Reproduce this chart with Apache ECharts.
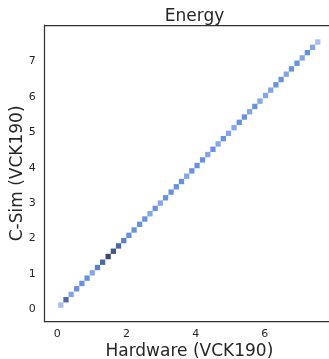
<!DOCTYPE html>
<html>
<head>
<meta charset="utf-8">
<script src="https://cdn.jsdelivr.net/npm/echarts@6/dist/echarts.min.js"></script>
<style>
html,body{margin:0;padding:0;background:#fff;}
#chart{width:329px;height:359px;}
</style>
</head>
<body>
<div id="chart"></div>
<script>
// Bin centres (2D histogram along the diagonal)
const hardware = [0.10,0.25,0.40,0.56,0.71,0.86,1.01,1.16,1.31,1.47,1.62,1.77,1.92,2.07,2.22,2.38,2.53,2.68,2.83,2.98,3.13,3.29,3.44,3.59,3.74,3.89,4.04,4.20,4.35,4.50,4.65,4.80,4.95,5.11,5.26,5.41,5.56,5.71,5.86,6.02,6.17,6.32,6.47,6.62,6.77,6.93,7.08,7.23,7.38,7.53];
const csim     = [0.12,0.27,0.42,0.58,0.73,0.88,1.03,1.18,1.33,1.49,1.64,1.79,1.94,2.09,2.24,2.40,2.55,2.70,2.85,3.00,3.15,3.31,3.46,3.61,3.76,3.91,4.06,4.22,4.37,4.52,4.67,4.82,4.97,5.13,5.28,5.43,5.58,5.73,5.88,6.04,6.19,6.34,6.49,6.64,6.79,6.95,7.10,7.25,7.40,7.55];
const counts   = [1,5,2,3,3,3,2,4,5,7,6,5,4,3,3,3,3,2,3,2,3,3,3,3,2,3,3,3,2,3,2,3,2,2,3,3,2,3,2,2,2,3,3,2,3,3,2,3,2,1];
const binWidth = 0.152;
const xTicks = [0,2,4,6];
const yTicks = [0,1,2,3,4,5,6,7];

const data = hardware.map((x,i)=>[x, csim[i], counts[i]]);
const txt = '#262626';
const font = 'DejaVu Sans';

const chart = echarts.init(document.getElementById('chart'), null, {renderer:'canvas'});
chart.setOption({
  animation:false,
  backgroundColor:'#fff',
  title:{text:'Energy', left:189.5, top:3, textAlign:'center',
    textStyle:{fontFamily:font, fontSize:17, fontWeight:'normal', color:txt}},
  grid:{left:44.7, top:25, right:-5, bottom:37.3, containLabel:false, outerBoundsMode:'none'},
  xAxis:[{
    type:'value', min:-0.365, max:8.0,
    name:'Hardware (VCK190)', nameLocation:'middle', nameGap:21, nameMoveOverlap:false,
    nameTextStyle:{fontFamily:font, fontSize:17, color:txt},
    axisLine:{show:true, onZero:false, lineStyle:{color:'#333', width:1.25}},
    axisTick:{show:false},
    splitLine:{show:false},
    axisLabel:{customValues:xTicks, fontFamily:font, fontSize:11, color:txt, margin:7}
  },{
    type:'value', position:'top', min:-0.365, max:8.0,
    axisLine:{show:true, onZero:false, lineStyle:{color:'#333', width:1.25}},
    axisTick:{show:false}, axisLabel:{show:false}, splitLine:{show:false}
  }],
  yAxis:{
    type:'value', min:-0.35, max:8.03,
    name:'C-Sim (VCK190)', nameLocation:'middle', nameGap:19, nameMoveOverlap:false,
    nameTextStyle:{fontFamily:font, fontSize:17, color:txt},
    axisLine:{show:true, onZero:false, lineStyle:{color:'#333', width:1.25}},
    axisTick:{show:false},
    splitLine:{show:false},
    axisLabel:{customValues:yTicks, fontFamily:font, fontSize:11, color:txt, margin:9}
  },
  visualMap:{
    show:false, type:'continuous', min:1, max:7, dimension:2, seriesIndex:0,
    inRange:{color:['#a9bfee','#84a5e7','#6692df','#5a80cc','#4b67a8','#44568a','#3b4a6c']}
  },
  series:[{
    type:'custom',
    xAxisIndex:0, yAxisIndex:0,
    data:data,
    encode:{x:0, y:1},
    renderItem:function(params, api){
      const c = api.coord([api.value(0), api.value(1)]);
      const s = api.size([binWidth, binWidth]);
      return {
        type:'rect',
        shape:{x:c[0]-s[0]/2, y:c[1]-s[1]/2, width:s[0], height:s[1]},
        style:{fill:api.visual('color')}
      };
    }
  }]
});
</script>
</body>
</html>
